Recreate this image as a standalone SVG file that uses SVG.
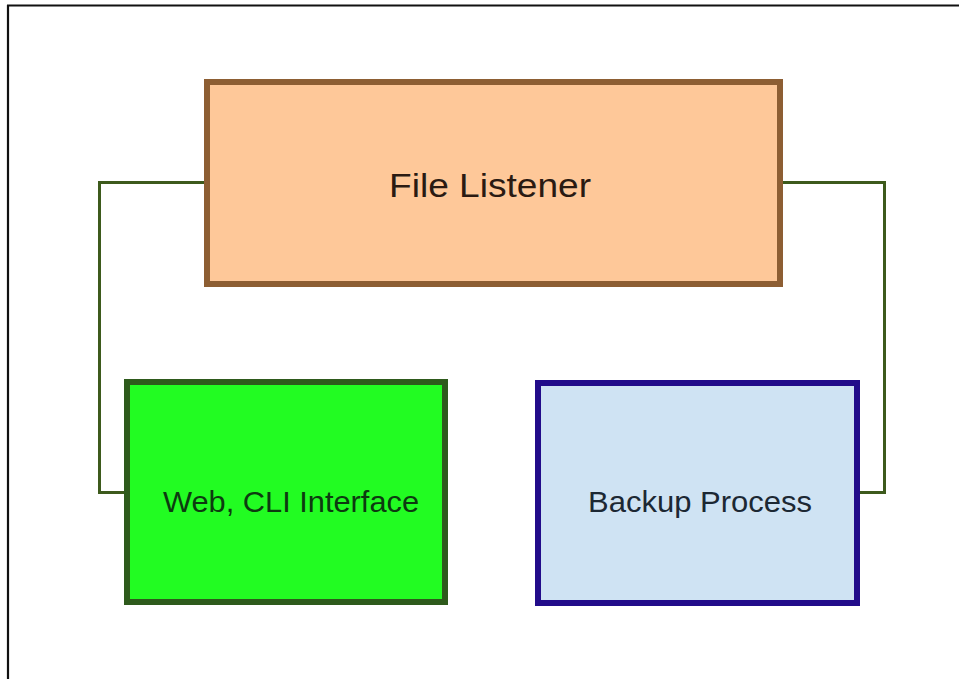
<svg xmlns="http://www.w3.org/2000/svg" width="959" height="679" viewBox="0 0 959 679">
<style>
.lbl{font-family:"Liberation Sans",Arial,sans-serif;}
.conn{fill:none;stroke:#3d5a1c;stroke-width:3;stroke-linejoin:miter;}
</style>
<rect x="0" y="0" width="959" height="679" fill="#ffffff"/>
<g id="frame">
<path d="M7,5.5 H959 M8,5 V679" fill="none" stroke="#111111" stroke-width="2.2"/>
</g>
<g id="connectors">
<path class="conn" d="M205,182.5 H99.5 V492.5 H125"/>
<path class="conn" d="M782,182.5 H884.5 V492.5 H859"/>
</g>
<g id="file-listener">
<rect x="207" y="82" width="573" height="202" fill="#fec899" stroke="#8d5e33" stroke-width="6"/>
<text class="lbl" x="389" y="197" font-size="33" fill="#2a1a12" textLength="202" lengthAdjust="spacingAndGlyphs">File Listener</text>
</g>
<g id="web-cli">
<rect x="127" y="382" width="318" height="220" fill="#22fc22" stroke="#2e5a1c" stroke-width="6"/>
<text class="lbl" x="163" y="512" font-size="29" fill="#0d3a10" textLength="256" lengthAdjust="spacingAndGlyphs">Web, CLI Interface</text>
</g>
<g id="backup">
<rect x="538" y="383" width="319" height="220" fill="#cfe3f3" stroke="#220c8a" stroke-width="6"/>
<text class="lbl" x="588" y="512" font-size="30" fill="#1c2833" textLength="224" lengthAdjust="spacingAndGlyphs">Backup Process</text>
</g>
</svg>
